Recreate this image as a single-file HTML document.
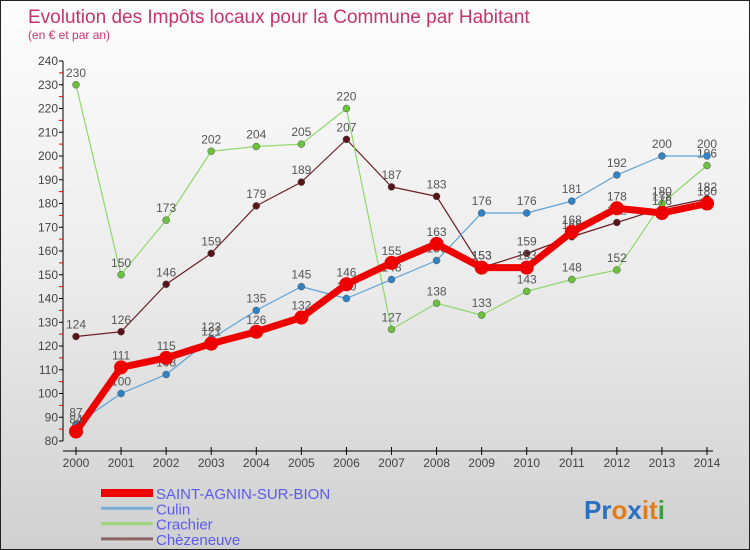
<!DOCTYPE html>
<html><head><meta charset="utf-8"><style>
body{margin:0}
#wrap{width:750px;height:550px;position:relative;overflow:hidden;background:linear-gradient(#fdfdfd 0%,#ececec 50%,#d0d0d0 100%);box-sizing:border-box;border:1px solid #222;font-family:"Liberation Sans",sans-serif}
svg text{font-family:"Liberation Sans",sans-serif}
</style></head><body>
<div id="wrap">
<svg id="chart" width="750" height="550">
<text x="27" y="22" font-size="19" fill="#c8336e">Evolution des Impôts locaux pour la Commune par Habitant</text>
<text x="27" y="38" font-size="12" fill="#c8336e">(en € et par an)</text>
<g id="axes"></g><g id="series"></g><g id="legend"></g>
<text x="583" y="518" font-size="26" font-weight="bold"><tspan fill="#2a6fc0">Pr</tspan><tspan fill="#e37d1a">o</tspan><tspan fill="#2a6fc0">x</tspan><tspan fill="#e37d1a">it</tspan><tspan fill="#3ba13b">i</tspan></text>
</svg></div>
<script>
const years=[2000,2001,2002,2003,2004,2005,2006,2007,2008,2009,2010,2011,2012,2013,2014];
const yTicks=[80,90,100,110,120,130,140,150,160,170,180,190,200,210,220,230,240];
const seriesNames=["SAINT-AGNIN-SUR-BION","Culin","Crachier","Chèzeneuve"];
const saintAgnin=[84,111,115,121,126,132,146,155,163,153,153,168,178,176,180];
const culin=[87,100,108,123,135,145,140,148,156,176,176,181,192,200,200];
const crachier=[230,150,173,202,204,205,220,127,138,133,143,148,152,180,196];
const chezeneuve=[124,126,146,159,179,189,207,187,183,153,159,166,172,178,182];
const NS="http://www.w3.org/2000/svg";
const x=i=>75+i*(706-75)/(years.length-1);
const y=v=>440-(v-80)*(440-60)/160;
function mk(tag,attrs,parent,txt){const e=document.createElementNS(NS,tag);for(const k in attrs)e.setAttribute(k,attrs[k]);if(txt!==undefined)e.textContent=txt;parent.appendChild(e);return e;}
const axes=document.getElementById('axes');
let a=mk('line',{x1:62,y1:60,x2:62,y2:440,stroke:'#000'},axes);


a=mk('line',{x1:62,y1:450,x2:712,y2:450,stroke:'#000'},axes);


yTicks.forEach(v=>{
 mk('line',{x1:58,y1:y(v),x2:62,y2:y(v),stroke:'#000'},axes);
 if(v<240) mk('line',{x1:58,y1:y(v+5),x2:62,y2:y(v+5),stroke:'#e00'},axes);
 const t=mk('text',{x:57,y:y(v)+4,'font-size':12,fill:'#444','text-anchor':'end'},axes,v);
 
 
});
years.forEach((yr,i)=>{
 mk('line',{x1:x(i),y1:446,x2:x(i),y2:454,stroke:'#000'},axes);
 const t=mk('text',{x:x(i),y:466,'font-size':12,fill:'#444','text-anchor':'middle'},axes,yr);
 
 
});
const sg=document.getElementById('series');
const defs=[[chezeneuve,'#6b1f24','#5a1418',1.2,3.5,'chezeneuve'],[crachier,'#8fd86a','#6cc23c',1.2,3.5,'crachier'],[culin,'#5aa2d8','#2f82c4',1.2,3.5,'culin'],[saintAgnin,'#ee0000','#ee0000',7,7,'saint-agnin']];
defs.forEach(([vals,lc,pc,w,r,nm])=>{
 const g=mk('g',{},sg);
 
 
 const p=mk('polyline',{points:vals.map((v,i)=>x(i)+','+y(v)).join(' '),fill:'none',stroke:lc,'stroke-width':w,'stroke-linejoin':'round'},g);
 
 
 vals.forEach((v,i)=>{
  const c=mk('circle',{cx:x(i),cy:y(v),r:r,fill:pc,stroke:r>5?'none':'#555','stroke-width':0.5},g);
  
  
  const t=mk('text',{x:x(i),y:y(v)-8,'font-size':12,fill:'#555','text-anchor':'middle'},g,v);
  
  
 });
});
const lg=document.getElementById('legend');
const lcol=['#ee0000','#79aed8','#9ed67a','#8b6464'],lw=[8,3,3,3];
seriesNames.forEach((n,i)=>{
 const yy=492+i*15.3;
 const l=mk('line',{x1:100,y1:yy,x2:152,y2:yy,stroke:lcol[i],'stroke-width':lw[i]},lg);
 
 
 const t=mk('text',{x:155,y:yy+6,'font-size':15,fill:'#5b5bf0'},lg,n);
 
 
});
</script>
</body></html>
